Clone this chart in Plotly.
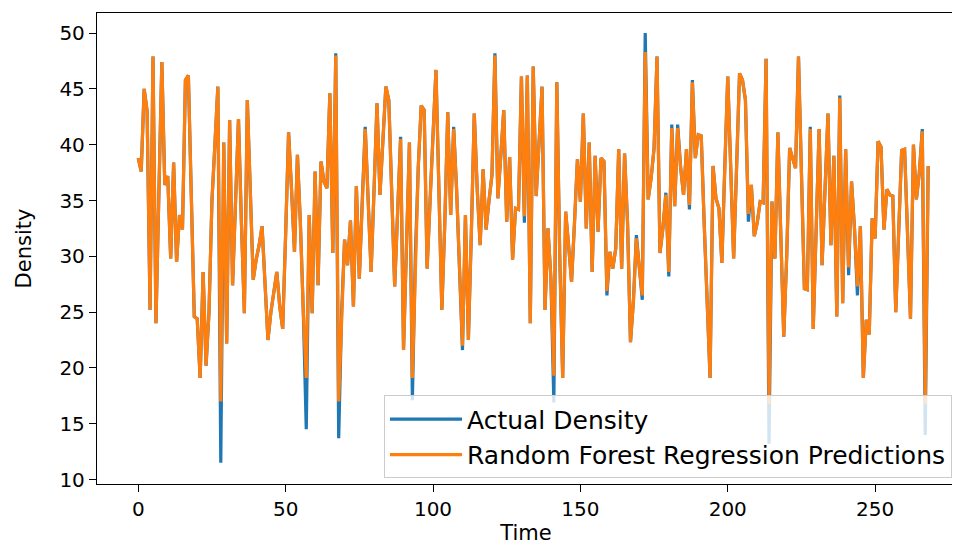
import plotly.graph_objects as go

actual_density = [
    38.8, 37.6, 45.0, 43.0, 25.2, 47.9, 24.0, 36.0, 47.4, 36.4,
    37.2, 29.8, 38.4, 29.5, 33.7, 32.4, 45.8, 46.2, 35.0, 24.6,
    24.4, 19.1, 28.6, 20.2, 25.0, 35.0, 40.0, 45.2, 11.5, 40.2,
    22.2, 42.2, 27.4, 35.0, 42.3, 33.0, 24.9, 44.0, 35.0, 27.9,
    29.7, 31.0, 32.7, 27.0, 22.5, 25.0, 27.0, 28.6, 25.5, 23.5,
    32.0, 41.1, 36.0, 30.4, 39.1, 33.0, 25.0, 14.5, 33.7, 24.9,
    37.6, 27.4, 38.5, 36.7, 36.1, 44.6, 30.3, 48.2, 13.7, 25.0,
    31.5, 29.2, 33.2, 25.5, 36.3, 28.0, 35.0, 41.6, 35.0, 28.6,
    36.0, 43.7, 35.5, 40.0, 45.2, 44.0, 36.0, 27.3, 34.0, 40.7,
    21.6, 30.0, 40.2, 17.1, 30.0, 38.0, 43.5, 43.1, 28.9, 35.0,
    41.0, 46.7, 36.0, 25.2, 33.0, 42.9, 33.7, 41.6, 36.0, 28.0,
    21.6, 33.7, 22.5, 32.0, 42.8, 36.0, 31.0, 37.8, 32.4, 35.0,
    37.3, 48.2, 35.2, 39.0, 43.1, 33.1, 38.9, 29.7, 34.3, 34.2,
    46.1, 33.0, 46.2, 24.0, 47.0, 35.4, 40.0, 45.2, 25.2, 32.5,
    28.0, 16.9, 45.6, 30.0, 19.1, 34.0, 31.0, 27.7, 33.0, 38.7,
    34.9, 42.8, 32.5, 40.2, 28.6, 39.0, 32.2, 38.8, 38.5, 26.5,
    30.4, 28.9, 30.7, 39.6, 28.9, 39.2, 33.0, 22.3, 26.0, 31.9,
    29.0, 26.1, 50.0, 35.1, 37.0, 39.7, 47.9, 30.3, 32.5, 35.7,
    28.2, 41.8, 34.5, 41.8, 38.0, 35.5, 39.6, 34.2, 45.8, 38.8,
    40.9, 40.8, 33.0, 26.0, 19.1, 38.1, 35.2, 34.3, 29.4, 38.0,
    46.1, 38.0, 29.8, 38.0, 46.4, 45.8, 44.0, 33.1, 36.4, 31.8,
    33.0, 34.9, 34.8, 47.7, 13.2, 34.9, 29.8, 41.1, 32.0, 22.8,
    30.0, 39.7, 38.8, 37.9, 47.9, 36.0, 27.1, 27.0, 41.6, 23.5,
    33.0, 41.4, 29.2, 36.0, 42.8, 31.0, 39.0, 24.6, 44.4, 25.8,
    39.6, 28.3, 36.7, 32.5, 26.5, 32.7, 19.1, 24.3, 23.0, 33.4,
    31.6, 40.3, 39.8, 32.4, 36.0, 35.5, 35.4, 25.0, 33.0, 39.5,
    39.6, 32.0, 24.4, 40.0, 35.1, 37.5, 41.4, 14.0, 38.1,
]

rf_predictions = [
    38.8, 37.6, 45.0, 43.0, 25.2, 47.9, 24.0, 36.0, 47.4, 36.4,
    37.2, 29.8, 38.4, 29.5, 33.7, 32.4, 45.8, 46.2, 35.0, 24.6,
    24.4, 19.1, 28.6, 20.2, 25.0, 35.0, 40.0, 45.2, 17.0, 40.2,
    22.2, 42.2, 27.4, 35.0, 42.3, 33.0, 24.9, 44.0, 35.0, 27.9,
    29.7, 31.0, 32.7, 27.0, 22.5, 25.0, 27.0, 28.6, 25.5, 23.5,
    32.0, 41.1, 36.0, 30.4, 39.1, 33.0, 25.0, 19.1, 33.7, 24.9,
    37.6, 27.4, 38.5, 36.7, 36.1, 44.6, 30.3, 48.0, 17.0, 25.0,
    31.5, 29.2, 33.2, 25.5, 36.3, 28.0, 35.0, 41.4, 35.0, 28.6,
    36.0, 43.7, 35.5, 40.0, 45.2, 44.0, 36.0, 27.3, 34.0, 40.5,
    21.6, 30.0, 40.2, 19.1, 30.0, 38.0, 43.5, 43.1, 28.9, 35.0,
    41.0, 46.7, 36.0, 25.2, 33.0, 42.9, 33.7, 41.4, 36.0, 28.0,
    22.0, 33.7, 22.5, 32.0, 42.8, 36.0, 31.0, 37.8, 32.4, 35.0,
    37.3, 48.0, 35.2, 39.0, 43.1, 33.1, 38.9, 29.7, 34.3, 34.2,
    46.1, 33.6, 46.2, 24.0, 47.0, 35.4, 40.0, 45.2, 25.2, 32.5,
    28.0, 19.3, 45.6, 30.0, 19.1, 34.0, 31.0, 27.7, 33.0, 38.7,
    34.9, 42.8, 32.5, 40.2, 28.6, 39.0, 32.2, 38.8, 38.5, 26.9,
    30.4, 28.9, 30.7, 39.6, 28.9, 39.2, 33.0, 22.3, 26.0, 31.6,
    29.0, 26.5, 48.3, 35.1, 37.0, 39.7, 47.9, 30.3, 32.5, 35.5,
    28.6, 41.5, 34.5, 41.5, 38.0, 35.5, 39.6, 34.6, 45.6, 38.8,
    40.9, 40.8, 33.0, 26.0, 19.1, 38.1, 35.2, 34.3, 29.4, 38.0,
    46.1, 38.0, 29.8, 38.0, 46.4, 45.8, 44.0, 33.8, 36.4, 31.8,
    33.0, 34.9, 34.8, 47.7, 16.8, 34.9, 29.8, 41.1, 32.0, 22.8,
    30.0, 39.7, 38.8, 37.9, 47.9, 36.0, 27.1, 27.0, 41.4, 23.5,
    33.0, 41.4, 29.2, 36.0, 42.8, 31.0, 39.0, 24.6, 44.2, 25.8,
    39.6, 29.0, 36.7, 32.5, 27.3, 32.7, 19.1, 24.3, 23.0, 33.4,
    31.6, 40.3, 39.8, 32.4, 36.0, 35.5, 35.4, 25.0, 33.0, 39.5,
    39.6, 32.0, 24.4, 40.0, 35.1, 37.5, 41.2, 16.8, 38.1,
]

time_index = list(range(len(actual_density)))

x_tick_values = [0, 50, 100, 150, 200, 250]
y_tick_values = [10, 15, 20, 25, 30, 35, 40, 45, 50]

FONT = "DejaVu Sans"

fig = go.Figure()
fig.add_trace(go.Scatter(
    x=time_index, y=actual_density, mode="lines",
    name="Actual Density",
    line=dict(color="#1f77b4", width=3.2),
))
fig.add_trace(go.Scatter(
    x=time_index, y=rf_predictions, mode="lines",
    name="Random Forest Regression Predictions",
    line=dict(color="#ff7f0e", width=3.2),
))

axis_common = dict(
    showgrid=False, zeroline=False,
    showline=True, linecolor="black", linewidth=1.3, mirror=True,
    ticks="outside", ticklen=7, tickwidth=1.2, tickcolor="black",
    tickfont=dict(family=FONT, size=20, color="black"),
    automargin=False,
)

# the page body adds an 8px offset, so margins are shifted to compensate
fig.update_layout(
    width=960, height=547,
    margin=dict(l=89, r=13, t=5, b=71),
    paper_bgcolor="white", plot_bgcolor="white",
    font=dict(family=FONT, color="black"),
    showlegend=True,
    legend=dict(
        x=0.9965, y=0.012, xanchor="right", yanchor="bottom",
        bgcolor="rgba(255,255,255,0.8)", bordercolor="#cccccc", borderwidth=1,
        font=dict(family=FONT, size=25, color="black"),
        itemwidth=72,
    ),
    xaxis=dict(
        range=[-14.0, 277.1], tickvals=x_tick_values,
        title=dict(text="Time", font=dict(family=FONT, size=21), standoff=5),
        **axis_common,
    ),
    yaxis=dict(
        range=[9.6, 51.8], tickvals=y_tick_values,
        title=dict(text="Density", font=dict(family=FONT, size=21), standoff=22),
        **axis_common,
    ),
)

fig.write_html("out.html")
